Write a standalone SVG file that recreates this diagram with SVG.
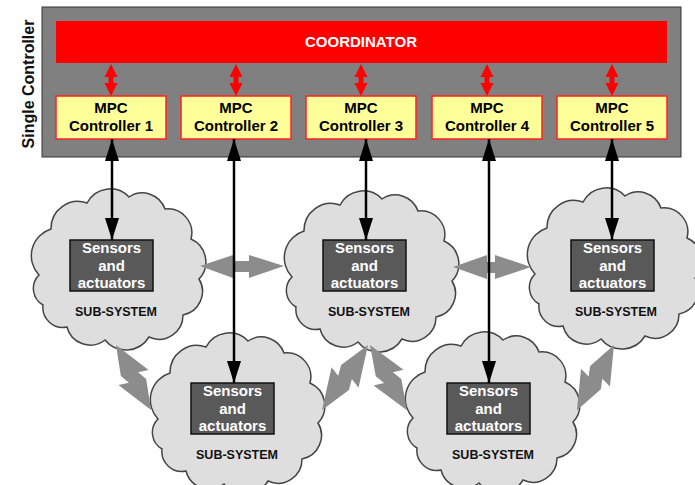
<svg xmlns="http://www.w3.org/2000/svg" width="695" height="485" viewBox="0 0 695 485">
<style>
text{font-family:"Liberation Sans",Arial,sans-serif;font-weight:bold;text-anchor:middle}
.mpc{fill:#ffff99;stroke:#ff2020;stroke-width:1.5}
.mpct{font-size:15px;fill:#000}
.cloud{fill:#dedede;stroke:#444;stroke-width:1.5}
.sa{fill:#595959;stroke:#111;stroke-width:1.5}
.sat{font-size:15px;fill:#fff}
.ss{font-size:12.5px;fill:#111}
.garrow{fill:#8c8c8c}
.rarrow{fill:#ff0000}
.blk{stroke:#000;stroke-width:2.5;fill:none}
</style>
<defs>
<path id="cloudShape" d="M-78,8 A28,28 0 0 1 -66,-38 A27,27 0 0 1 -30,-64 A26,26 0 0 1 12,-70 A24,24 0 0 1 48,-58 A24,24 0 0 1 74,-28 A25,25 0 0 1 82,12 A24,24 0 0 1 66,48 A24,24 0 0 1 32,70 A27,27 0 0 1 -12,73 A24,24 0 0 1 -50,60 A20,20 0 0 1 -74,38 A19,19 0 0 1 -78,8 Z"/>
<polygon id="bolt" points="0,0 38,-13 35,-5 45,-8 75,0 37,13 40,5 30,8"/>
<polygon id="redArrow" points="0,0 -6.5,13 -2.5,13 -2.5,19 -6.5,19 0,32 6.5,19 2.5,19 2.5,13 6.5,13"/>
<marker id="ah" viewBox="0 0 22 14" refX="22" refY="7" markerWidth="22" markerHeight="14" markerUnits="userSpaceOnUse" orient="auto-start-reverse">
<path d="M0,0 L22,7 L0,14 Z" fill="#000"/>
</marker>
</defs>

<g id="single-controller">
<rect x="42" y="7" width="639" height="150" fill="#808080" stroke="#333" stroke-width="1"/>
<text transform="translate(34,84) rotate(-90)" font-size="16" fill="#111">Single Controller</text>
</g>

<g id="coordinator">
<rect x="56" y="21" width="611" height="42" fill="#ff0000"/>
<text x="361" y="47" font-size="15" fill="#fff">COORDINATOR</text>
</g>

<g id="mpc1"><rect class="mpc" x="56" y="96" width="110" height="43"/><text class="mpct" x="111" y="113">MPC</text><text class="mpct" x="111" y="131">Controller 1</text></g>
<g id="mpc2"><rect class="mpc" x="181" y="96" width="110" height="43"/><text class="mpct" x="236" y="113">MPC</text><text class="mpct" x="236" y="131">Controller 2</text></g>
<g id="mpc3"><rect class="mpc" x="306" y="96" width="110" height="43"/><text class="mpct" x="361" y="113">MPC</text><text class="mpct" x="361" y="131">Controller 3</text></g>
<g id="mpc4"><rect class="mpc" x="432" y="96" width="110" height="43"/><text class="mpct" x="487" y="113">MPC</text><text class="mpct" x="487" y="131">Controller 4</text></g>
<g id="mpc5"><rect class="mpc" x="557" y="96" width="110" height="43"/><text class="mpct" x="612" y="113">MPC</text><text class="mpct" x="612" y="131">Controller 5</text></g>

<g id="subsystem1">
<use href="#cloudShape" class="cloud" transform="translate(117,267)"/>
<rect class="sa" x="70" y="240" width="83" height="51"/>
<text class="sat" x="111.5" y="253">Sensors</text><text class="sat" x="111.5" y="271">and</text><text class="sat" x="111.5" y="288">actuators</text>
<text class="ss" x="116" y="316">SUB-SYSTEM</text>
</g>
<g id="subsystem3">
<use href="#cloudShape" class="cloud" transform="translate(370,269)"/>
<rect class="sa" x="323" y="240" width="83" height="51"/>
<text class="sat" x="364.5" y="253">Sensors</text><text class="sat" x="364.5" y="271">and</text><text class="sat" x="364.5" y="288">actuators</text>
<text class="ss" x="369" y="316">SUB-SYSTEM</text>
</g>
<g id="subsystem5">
<use href="#cloudShape" class="cloud" transform="translate(613,266)"/>
<rect class="sa" x="571" y="240" width="83" height="51"/>
<text class="sat" x="612.5" y="253">Sensors</text><text class="sat" x="612.5" y="271">and</text><text class="sat" x="612.5" y="288">actuators</text>
<text class="ss" x="616" y="316">SUB-SYSTEM</text>
</g>
<g id="subsystem2">
<use href="#cloudShape" class="cloud" transform="translate(236,411)"/>
<rect class="sa" x="191" y="383" width="83" height="51"/>
<text class="sat" x="232.5" y="396">Sensors</text><text class="sat" x="232.5" y="414">and</text><text class="sat" x="232.5" y="431">actuators</text>
<text class="ss" x="237" y="459">SUB-SYSTEM</text>
</g>
<g id="subsystem4">
<use href="#cloudShape" class="cloud" transform="translate(491,410)"/>
<rect class="sa" x="447" y="383" width="83" height="51"/>
<text class="sat" x="488.5" y="396">Sensors</text><text class="sat" x="488.5" y="414">and</text><text class="sat" x="488.5" y="431">actuators</text>
<text class="ss" x="493" y="459">SUB-SYSTEM</text>
</g>

<g id="connectors">
<use href="#redArrow" class="rarrow" transform="translate(111,64)"/>
<use href="#redArrow" class="rarrow" transform="translate(236,64)"/>
<use href="#redArrow" class="rarrow" transform="translate(361,64)"/>
<use href="#redArrow" class="rarrow" transform="translate(487,64)"/>
<use href="#redArrow" class="rarrow" transform="translate(612,64)"/>

<polygon class="garrow" points="200,266 233,255 233,261 249,261 249,255 284,266 249,278 249,272 233,272 233,278"/>
<polygon class="garrow" points="453,267 487,255 487,262 495,262 495,255 531,267 495,279 495,273 487,273 487,279"/>

<use href="#bolt" class="garrow" transform="translate(116,345) rotate(61.7) scale(0.985,1.3)"/>
<use href="#bolt" class="garrow" transform="translate(368,345) rotate(125.3) scale(1.06,1.3)"/>
<use href="#bolt" class="garrow" transform="translate(370,345) rotate(60.4) scale(1,1.3)"/>
<use href="#bolt" class="garrow" transform="translate(614,345) rotate(119.6) scale(1,1.3)"/>

<line class="blk" x1="112" y1="139" x2="112" y2="240" marker-start="url(#ah)" marker-end="url(#ah)"/>
<line class="blk" x1="234" y1="139" x2="234" y2="383" marker-start="url(#ah)" marker-end="url(#ah)"/>
<line class="blk" x1="366" y1="139" x2="366" y2="240" marker-start="url(#ah)" marker-end="url(#ah)"/>
<line class="blk" x1="489" y1="139" x2="489" y2="383" marker-start="url(#ah)" marker-end="url(#ah)"/>
<line class="blk" x1="612" y1="139" x2="612" y2="240" marker-start="url(#ah)" marker-end="url(#ah)"/>
</g>
</svg>
